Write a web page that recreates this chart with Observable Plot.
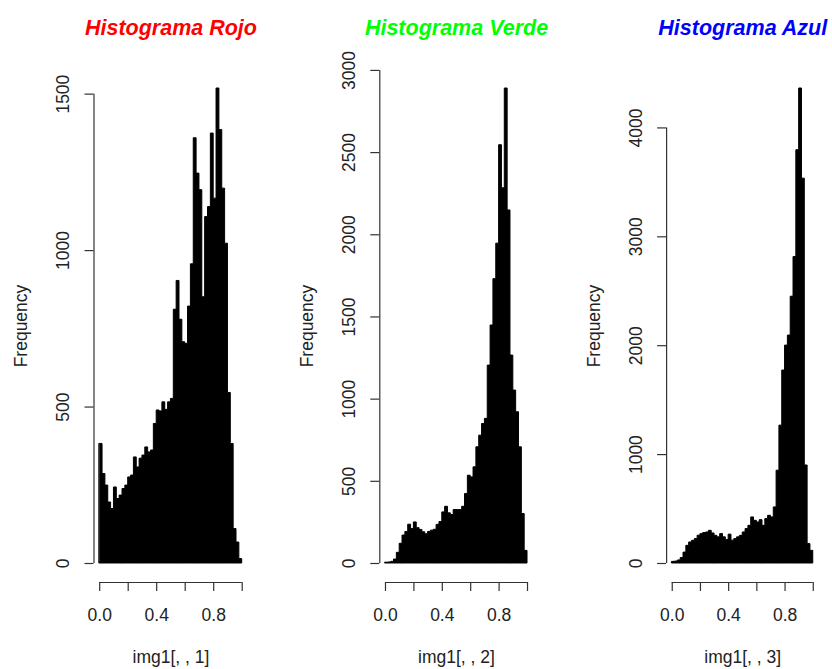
<!DOCTYPE html>
<html><head><meta charset="utf-8">
<script src="https://cdn.jsdelivr.net/npm/d3@7"></script>
<script src="https://cdn.jsdelivr.net/npm/@observablehq/plot@0.6"></script>
<style>
body{margin:0;background:#fff;}
#wrap{display:flex;width:832px;height:669px;overflow:hidden;}
#wrap svg{display:block;flex:none;}
</style></head><body><div id="wrap"></div>
<script>
// ---- data (bins of width 0.02 from 0 to 1) ----
const binWidth = 0.02;
const redCounts = [382,286,249,195,174,243,206,217,238,249,275,281,339,307,335,345,371,355,361,446,
  489,486,515,491,515,526,811,903,779,707,702,821,956,1359,1246,1193,851,1107,1139,1374,
  1166,1518,1385,1198,1022,545,382,110,67,14];
const greenCounts = [5,6,10,24,65,120,170,192,236,210,250,215,204,190,178,192,200,205,235,252,
  311,345,305,295,325,325,325,345,423,534,524,585,707,778,849,880,1204,1448,1730,1946,
  2545,2283,2890,2148,1265,1052,920,707,301,77];
const blueCounts = [15,18,28,50,100,162,193,208,224,255,270,280,285,300,276,254,240,270,240,215,
  265,210,224,240,254,285,316,346,423,392,377,398,346,408,438,423,515,852,1266,1772,
  2001,2093,2450,2814,3795,4362,3534,900,178,116];
const panelTitles = ["Histograma Rojo", "Histograma Verde", "Histograma Azul"];
const titleColors = ["#ff0000", "#00ff00", "#0000ff"];
const xAxisTitles = ["img1[, , 1]", "img1[, , 2]", "img1[, , 3]"];
const yAxisTitle = "Frequency";
const xTicks = [0, 0.2, 0.4, 0.6, 0.8, 1.0];
const xTickLabels = ["0.0", "", "0.4", "", "0.8", ""];
const yTicksRed = [0, 500, 1000, 1500];
const yTicksGreen = [0, 500, 1000, 1500, 2000, 2500, 3000];
const yTicksBlue = [0, 1000, 2000, 3000, 4000];

// ---- layout ----
const layout = [
  {width: 277, ml: 93.5, mr: 29.6},
  {width: 277, ml: 102.3, mr: 21.3},
  {width: 278, ml: 112.1, mr: 13.6}
];

function panel(i, counts, yTicks) {
  const cfg = layout[i];
  const M = d3.max(counts);
  const yMin = -0.04 * M, yMax = 1.04 * M;
  // histogram outline as a step area: one vertex per bin start, plus the closing edge at the last break
  const steps = counts.map((c, k) => ({x: k * binWidth, count: c}));
  steps.push({x: counts.length * binWidth, count: counts[counts.length - 1]});
  return Plot.plot({
    width: cfg.width, height: 669,
    marginTop: 69, marginBottom: 87, marginLeft: cfg.ml, marginRight: cfg.mr,
    style: {fontFamily: "'Liberation Sans', Arial, sans-serif", fontSize: "17.5px", color: "#222", background: "#fff", overflow: "visible"},
    x: {domain: [-0.04, 1.04], axis: null},
    y: {domain: [yMin, yMax], axis: null},
    marks: [
      Plot.areaY(steps, {x: "x", y1: 0, y2: "count", curve: "step-after", fill: "black", stroke: "black", strokeWidth: 1}),
      Plot.ruleY([yMin], {x1: 0, x2: 1, stroke: "#333", strokeWidth: 1.2}),
      Plot.ruleX([-0.04], {y1: 0, y2: yTicks[yTicks.length - 1], stroke: "#333", strokeWidth: 1.2}),
      Plot.axisX(xTicks, {anchor: "bottom", label: null, tickSize: 9, tickPadding: 17.5, stroke: "#333", strokeWidth: 1.2,
        tickFormat: d => xTickLabels[xTicks.indexOf(d)]}),
      Plot.axisY(yTicks, {anchor: "left", label: null, tickSize: 9, stroke: "#333", strokeWidth: 1.2, tickFormat: () => ""}),
      Plot.text(yTicks, {y: d => d, text: d => String(d), frameAnchor: "left", rotate: -90, dx: -30.5,
        textAnchor: "middle", lineAnchor: "middle"}),
      Plot.text([yAxisTitle], {text: d => d, frameAnchor: "left", rotate: -90, dx: -72.5,
        textAnchor: "middle", lineAnchor: "middle"}),
      Plot.text([xAxisTitles[i]], {text: d => d, frameAnchor: "bottom", dy: 74.7, lineAnchor: "middle"}),
      Plot.text([panelTitles[i]], {text: d => d, frameAnchor: "top", dy: -41.5, lineAnchor: "middle",
        fontSize: 21.5, fontWeight: "bold", fontStyle: "italic", fill: titleColors[i]})
    ]
  });
}

const wrap = document.getElementById("wrap");
wrap.appendChild(panel(0, redCounts, yTicksRed));
wrap.appendChild(panel(1, greenCounts, yTicksGreen));
wrap.appendChild(panel(2, blueCounts, yTicksBlue));
</script>
</body></html>
